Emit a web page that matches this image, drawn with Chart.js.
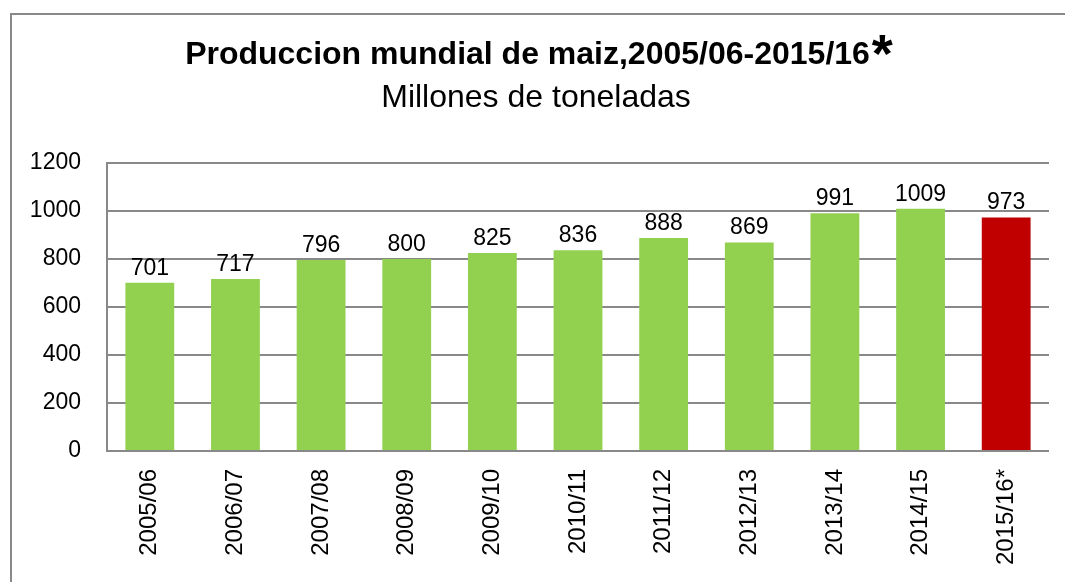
<!DOCTYPE html>
<html>
<head>
<meta charset="utf-8">
<script src="https://cdn.jsdelivr.net/npm/chart.js@4/dist/chart.umd.min.js"></script>
<style>
  html, body { margin: 0; padding: 0; background: #fff; overflow: hidden; }
  canvas { display: block; }
</style>
</head>
<body>
<canvas id="maizChart" width="1065" height="582"></canvas>
<script>
const categories = ["2005/06", "2006/07", "2007/08", "2008/09", "2009/10", "2010/11",
  "2011/12", "2012/13", "2013/14", "2014/15", "2015/16*"];
const production = [701, 717, 796, 800, 825, 836, 888, 869, 991, 1009, 973];
const yTicks = [0, 200, 400, 600, 800, 1000, 1200];

const titleText = "Produccion mundial de maiz,2005/06-2015/16";
const subtitleText = "Millones de toneladas";

// Outer frame, title with big asterisk, subtitle
const framePlugin = {
  id: "frame",
  beforeDraw(chart) {
    const ctx = chart.ctx;
    ctx.save();
    ctx.strokeStyle = "#898989";
    ctx.lineWidth = 2;
    ctx.strokeRect(11, 14, 1200, 800);
    ctx.restore();
  },
  afterDraw(chart) {
    const ctx = chart.ctx;
    ctx.save();
    ctx.fillStyle = "#000";
    ctx.textBaseline = "alphabetic";

    ctx.font = "bold 32px 'Liberation Sans', Arial, sans-serif";
    const w1 = ctx.measureText(titleText).width;
    ctx.font = "bold 54px 'Liberation Sans', Arial, sans-serif";
    const w2 = ctx.measureText("*").width;
    const startX = 538 - (w1 + w2) / 2;
    ctx.textAlign = "left";
    ctx.font = "bold 32px 'Liberation Sans', Arial, sans-serif";
    ctx.fillText(titleText, startX, 64);
    ctx.font = "bold 54px 'Liberation Sans', Arial, sans-serif";
    ctx.fillText("*", startX + w1 + 2, 72);

    ctx.textAlign = "center";
    ctx.font = "32px 'Liberation Sans', Arial, sans-serif";
    ctx.fillText(subtitleText, 536, 107);
    ctx.restore();
  }
};

// Value labels above each bar
const valueLabels = {
  id: "valueLabels",
  afterDatasetsDraw(chart) {
    const ctx = chart.ctx;
    const meta = chart.getDatasetMeta(0);
    ctx.save();
    ctx.fillStyle = "#000";
    ctx.font = "23px 'Liberation Sans', Arial, sans-serif";
    ctx.textAlign = "center";
    ctx.textBaseline = "alphabetic";
    meta.data.forEach((bar, i) => {
      ctx.fillText(production[i], bar.x, bar.y - 8);
    });
    ctx.restore();
  }
};

new Chart(document.getElementById("maizChart"), {
  type: "bar",
  data: {
    labels: categories,
    datasets: [{
      data: production,
      backgroundColor: production.map((v, i) => i === production.length - 1 ? "#C00000" : "#92D050"),
      barPercentage: 0.57,
      categoryPercentage: 1.0
    }]
  },
  options: {
    responsive: false,
    animation: false,
    layout: { padding: { left: 29, right: 16, top: 163, bottom: 0 } },
    plugins: {
      legend: { display: false },
      tooltip: { enabled: false }
    },
    scales: {
      x: {
        grid: { display: false, drawTicks: false },
        border: { display: false },
        ticks: {
          color: "#000",
          font: { family: "'Liberation Sans', Arial, sans-serif", size: 24 },
          minRotation: 90,
          maxRotation: 90,
          autoSkip: false,
          padding: 18
        },
        afterFit(scale) { scale.height = 131; }
      },
      y: {
        min: 0,
        max: 1200,
        afterBuildTicks(scale) { scale.ticks = yTicks.map(v => ({ value: v })); },
        grid: { color: "#898989", lineWidth: 2, drawTicks: false },
        border: { display: true, color: "#898989", width: 2 },
        ticks: {
          color: "#000",
          font: { family: "'Liberation Sans', Arial, sans-serif", size: 23 },
          padding: 26,
          callback: v => String(v)
        },
        afterFit(scale) { scale.width = 78; }
      }
    }
  },
  plugins: [framePlugin, valueLabels]
});
</script>
</body>
</html>
